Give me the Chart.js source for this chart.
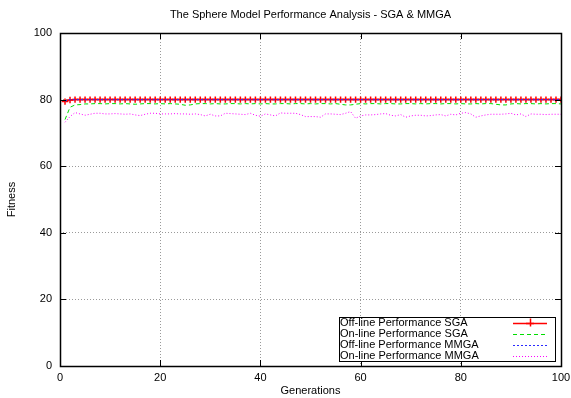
<!DOCTYPE html>
<html><head><meta charset="utf-8">
<script src="https://cdn.jsdelivr.net/npm/chart.js@4"></script>
<style>html,body{margin:0;padding:0;background:#fff}#wrap{width:571px;height:398px}</style>
</head><body><div id="wrap"><canvas id="c" width="571" height="398"></canvas></div>
<script>
const generations = [1,2,3,4,5,6,7,8,9,10,11,12,13,14,15,16,17,18,19,20,21,22,23,24,25,26,27,28,29,30,31,32,33,34,35,36,37,38,39,40,41,42,43,44,45,46,47,48,49,50,51,52,53,54,55,56,57,58,59,60,61,62,63,64,65,66,67,68,69,70,71,72,73,74,75,76,77,78,79,80,81,82,83,84,85,86,87,88,89,90,91,92,93,94,95,96,97,98,99,100];

const offlineSGA = [79.4,79.9,80.0,80.0,80.0,80.0,80.0,80.0,80.0,80.0,80.0,80.0,80.0,80.0,80.0,80.0,80.0,80.0,80.0,80.0,80.0,80.0,80.0,80.0,80.0,80.0,80.0,80.0,80.0,80.0,80.0,80.0,80.0,80.0,80.0,80.0,80.0,80.0,80.0,80.0,80.0,80.0,80.0,80.0,80.0,80.0,80.0,80.0,80.0,80.0,80.0,80.0,80.0,80.0,80.0,80.0,80.0,80.0,80.0,80.0,80.0,80.0,80.0,80.0,80.0,80.0,80.0,80.0,80.0,80.0,80.0,80.0,80.0,80.0,80.0,80.0,80.0,80.0,80.0,80.0,80.0,80.0,80.0,80.0,80.0,80.0,80.0,80.0,80.0,80.0,80.0,80.0,80.0,80.0,80.0,80.0,80.0,80.0,80.0,80.0];

const onlineSGA = [74.0,77.7,78.4,78.5,78.7,78.7,78.8,78.8,78.7,78.8,78.8,78.7,78.8,78.7,78.6,78.7,78.8,78.8,78.7,78.8,78.7,78.8,78.7,78.6,78.3,78.4,78.7,78.8,78.8,78.7,78.8,78.7,78.7,78.8,78.8,78.7,78.8,78.7,78.8,78.7,78.8,78.7,78.7,78.8,78.8,78.7,78.8,78.8,78.7,78.8,78.7,78.8,78.8,78.7,78.8,78.6,78.4,78.4,78.6,78.8,78.7,78.8,78.8,78.7,78.8,78.8,78.7,78.7,78.8,78.8,78.7,78.8,78.7,78.8,78.8,78.7,78.8,78.8,78.7,78.8,78.7,78.7,78.8,78.7,78.8,78.8,78.6,78.4,78.4,78.7,78.8,78.7,78.8,78.8,78.7,78.8,78.7,78.8,78.8,78.7];

const offlineMMGA = [79.6,80.0,80.0,80.0,80.0,80.0,80.0,80.0,80.0,80.0,80.0,80.0,80.0,80.0,80.0,80.0,80.0,80.0,80.0,80.0,80.0,80.0,80.0,80.0,80.0,80.0,80.0,80.0,80.0,80.0,80.0,80.0,80.0,80.0,80.0,80.0,80.0,80.0,80.0,80.0,80.0,80.0,80.0,80.0,80.0,80.0,80.0,80.0,80.0,80.0,80.0,80.0,80.0,80.0,80.0,80.0,80.0,80.0,80.0,80.0,80.0,80.0,80.0,80.0,80.0,80.0,80.0,80.0,80.0,80.0,80.0,80.0,80.0,80.0,80.0,80.0,80.0,80.0,80.0,80.0,80.0,80.0,80.0,80.0,80.0,80.0,80.0,80.0,80.0,80.0,80.0,80.0,80.0,80.0,80.0,80.0,80.0,80.0,80.0,80.0];

const onlineMMGA = [73.2,74.9,76.1,75.7,75.3,75.6,75.9,75.9,75.7,75.7,
75.8,75.7,75.6,75.7,75.4,75.2,75.6,75.9,75.9,75.7,
75.7,75.7,75.8,75.7,75.7,75.6,75.7,75.5,75.1,75.6,
75.1,75.1,75.9,75.8,75.7,75.6,75.5,75.9,75.3,75.0,
75.7,75.4,75.1,76.0,75.9,75.9,75.9,75.5,74.9,74.9,
74.9,74.7,75.7,75.7,75.6,75.5,75.9,76.4,74.4,75.1,
75.4,75.4,75.5,75.7,75.8,75.3,75.1,75.5,74.7,75.1,
75.3,75.3,75.1,75.2,75.4,75.5,75.1,75.6,75.4,75.9,
76.1,75.7,74.7,75.1,75.4,75.6,75.6,75.6,75.7,75.9,
75.4,75.7,74.9,75.7,75.6,75.6,75.5,75.6,75.6,75.6];

const seriesNames = ['Off-line Performance SGA','On-line Performance SGA','Off-line Performance MMGA','On-line Performance MMGA'];
const tickValues = [0,20,40,60,80,100];
const titleText = 'The Sphere Model Performance Analysis - SGA & MMGA';
const xTitle = 'Generations';
const yTitle = 'Fitness';

const FONT = "'Liberation Sans', Arial, Helvetica, sans-serif";
const pts = arr => generations.map((g,i)=>({x:g,y:arr[i]}));

const styles = [
  {color:'#ff0000', width:1.5, dash:[], point:'cross'},
  {color:'#00dd00', width:1, dash:[4,3], point:false},
  {color:'#2a2aff', width:1.2, dash:[2,2], point:false},
  {color:'#ff00ff', width:1, dash:[1,2], point:false}
];
const values = [offlineSGA, onlineSGA, offlineMMGA, onlineMMGA];

const datasets = values.map((v,i)=>({
  label: seriesNames[i],
  data: pts(v),
  borderColor: styles[i].color,
  backgroundColor: styles[i].color,
  borderWidth: styles[i].width,
  borderDash: styles[i].dash,
  pointStyle: styles[i].point || 'circle',
  pointRadius: styles[i].point ? 3.2 : 0,
  pointBorderWidth: 1.5,
  pointBorderColor: styles[i].color,
  tension: 0,
  fill: false,
  order: 4 - i
}));

const framePlugin = {
  id: 'frame',
  afterDraw(chart) {
    const ctx = chart.ctx, ca = chart.chartArea;
    const xs = chart.scales.x, ys = chart.scales.y;
    ctx.save();
    ctx.strokeStyle = '#000';
    ctx.lineWidth = 1;
    ctx.setLineDash([]);
    ctx.beginPath();
    tickValues.forEach(v => {
      const px = Math.round(xs.getPixelForValue(v)) + 0.5;
      ctx.moveTo(px, ca.bottom); ctx.lineTo(px, ca.bottom - 6);
      ctx.moveTo(px, ca.top); ctx.lineTo(px, ca.top + 6);
      const py = Math.round(ys.getPixelForValue(v)) + 0.5;
      ctx.moveTo(ca.left, py); ctx.lineTo(ca.left + 6, py);
      ctx.moveTo(ca.right, py); ctx.lineTo(ca.right - 6, py);
    });
    ctx.stroke();
    ctx.lineWidth = 1.5;
    ctx.strokeRect(Math.round(ca.left)+0.5, Math.round(ca.top)+0.5, Math.round(ca.right-ca.left), Math.round(ca.bottom-ca.top));
    const l = Math.round(ca.right) - 222, r = Math.round(ca.right) - 6;
    const t = Math.round(ca.bottom) - 49, b = Math.round(ca.bottom) - 5;
    ctx.fillStyle = '#fff';
    ctx.fillRect(l, t, r - l, b - t);
    ctx.lineWidth = 1;
    ctx.strokeStyle = '#000';
    ctx.strokeRect(l + 0.5, t + 0.5, r - l, b - t);
    ctx.font = '11px ' + FONT;
    ctx.textBaseline = 'middle';
    ctx.textAlign = 'left';
    chart.data.datasets.forEach((ds, i) => {
      const y = t + 5.5 + i * 11;
      ctx.fillStyle = '#000';
      ctx.fillText(ds.label, l + 1, y);
      ctx.strokeStyle = ds.borderColor;
      ctx.lineWidth = ds.borderWidth;
      ctx.setLineDash(ds.borderDash);
      ctx.beginPath();
      ctx.moveTo(r - 42, Math.round(y) + 0.5);
      ctx.lineTo(r - 8, Math.round(y) + 0.5);
      ctx.stroke();
      ctx.setLineDash([]);
      if (ds.pointRadius > 0) {
        const cx = r - 25;
        ctx.lineWidth = 1.5;
        ctx.beginPath();
        ctx.moveTo(cx - 4, Math.round(y) + 0.5); ctx.lineTo(cx + 4, Math.round(y) + 0.5);
        ctx.moveTo(cx + 0.5, y - 4); ctx.lineTo(cx + 0.5, y + 4);
        ctx.stroke();
      }
    });
    ctx.restore();
  }
};

const tickFont = {family: FONT, size: 11, weight: 'normal'};

new Chart(document.getElementById('c'), {
  type: 'line',
  data: {datasets},
  options: {
    responsive: false,
    animation: false,
    devicePixelRatio: 1,
    events: [],
    layout: {padding: {left: 0, right: 10, top: 0, bottom: 0}},
    plugins: {
      legend: {display: false},
      tooltip: {enabled: false},
      title: {display: true, text: titleText, fullSize: false, color: '#000',
        font: {family: FONT, size: 11, weight: 'normal'}, padding: {top: 8, bottom: 11.8}}
    },
    scales: {
      x: {
        type: 'linear', min: 0, max: 100,
        afterBuildTicks(s) { s.ticks = tickValues.map(v => ({value: v})); },
        afterFit(s) { s.height = 32; s.paddingLeft = 0; s.paddingRight = 0; },
        ticks: {color: '#000', font: tickFont, padding: 5, maxRotation: 0, autoSkip: false},
        grid: {color: '#9a9a9a', lineWidth: 1, drawTicks: false},
        border: {display: false, dash: [1, 2]},
        title: {display: true, text: xTitle, color: '#000', font: tickFont, padding: {top: 0, bottom: 0}}
      },
      y: {
        type: 'linear', min: 0, max: 100,
        afterBuildTicks(s) { s.ticks = tickValues.map(v => ({value: v})); },
        afterFit(s) { s.width = 60; s.paddingTop = 0; s.paddingBottom = 0; },
        ticks: {color: '#000', font: tickFont, padding: 8, autoSkip: false},
        grid: {color: '#9a9a9a', lineWidth: 1, drawTicks: false},
        border: {display: false, dash: [1, 2]},
        title: {display: true, text: yTitle, color: '#000', font: tickFont, padding: {top: 5, bottom: 0}}
      }
    }
  },
  plugins: [framePlugin]
});
</script>
</body></html>
